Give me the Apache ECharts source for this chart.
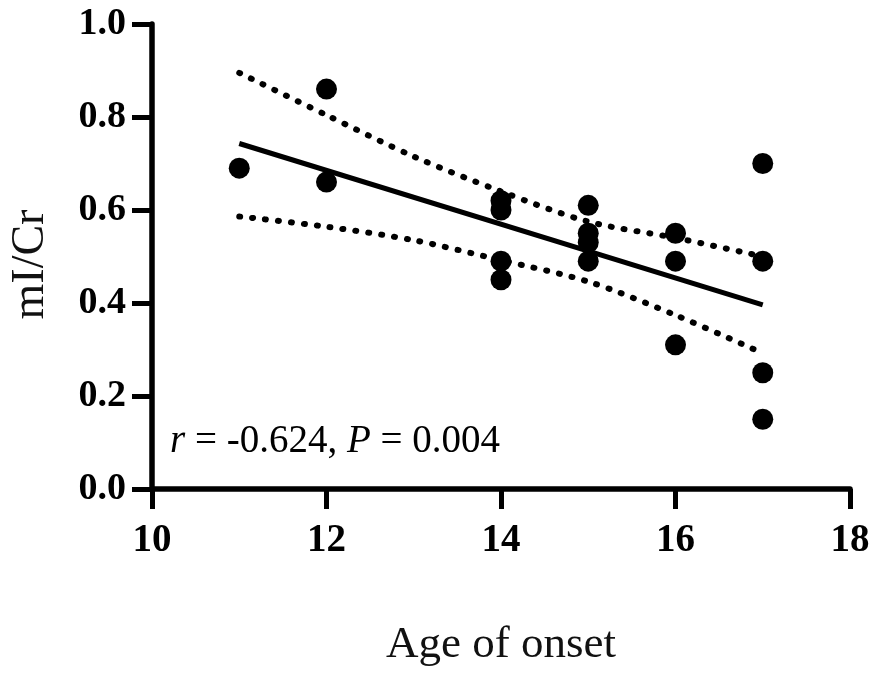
<!DOCTYPE html>
<html>
<head>
<meta charset="utf-8">
<script src="https://cdn.jsdelivr.net/npm/echarts@6/dist/echarts.min.js"></script>
<style>
  html, body { margin: 0; padding: 0; background: #fff; }
  #chart { width: 886px; height: 683px; }
</style>
</head>
<body>
<div id="chart"></div>
<script>
// measured points (age of onset vs mI/Cr)
const ages = [11, 12, 12, 14, 14, 14, 14, 15, 15, 15, 15, 16, 16, 16, 17, 17, 17, 17]
const ratios = [0.69, 0.86, 0.66, 0.62, 0.60, 0.49, 0.45, 0.61, 0.55, 0.53, 0.49, 0.55, 0.49, 0.31, 0.70, 0.49, 0.25, 0.15]

// fitted line end points
const fitX = [11, 17]
const fitY = [0.743, 0.396]

// 95% confidence band
const bandX = [11, 12, 13, 14, 15, 16, 17]
const bandUpper = [0.895, 0.804, 0.715, 0.64, 0.575, 0.54, 0.50]
const bandLower = [0.586, 0.564, 0.535, 0.492, 0.446, 0.374, 0.292]

const serif = "'Liberation Serif', 'DejaVu Serif', serif"
const pair = (xs, ys) => xs.map((x, i) => [x, ys[i]])

const dotted = {
    color: '#000',
    width: 6,
    type: [1, 12],
    cap: 'round'
}

const chart = echarts.init(document.getElementById('chart'))
chart.setOption({
    animation: false,
    grid: { left: 148, right: 36, top: 24, bottom: 194 },
    xAxis: {
        type: 'value',
        min: 10,
        max: 18,
        interval: 2,
        name: 'Age of onset',
        nameLocation: 'middle',
        nameGap: 134,
        nameTextStyle: { fontFamily: serif, fontSize: 45, color: '#111' },
        axisLine: { lineStyle: { color: '#000', width: 5.5 } },
        axisTick: { length: 20, lineStyle: { color: '#000', width: 5 } },
        axisLabel: { fontFamily: serif, fontSize: 39, fontWeight: 'bold', color: '#000', margin: 32 },
        splitLine: { show: false }
    },
    yAxis: {
        type: 'value',
        min: 0,
        max: 1.0,
        interval: 0.2,
        name: 'mI/Cr',
        nameLocation: 'middle',
        nameGap: 98,
        nameTextStyle: { fontFamily: serif, fontSize: 46, color: '#111', padding: [0, 16, 0, 0] },
        axisLine: { show: true, lineStyle: { color: '#000', width: 5.5 } },
        axisTick: { show: true, length: 20, lineStyle: { color: '#000', width: 5 } },
        axisLabel: {
            fontFamily: serif, fontSize: 38, fontWeight: 'bold', color: '#000', margin: 26,
            formatter: v => v.toFixed(1)
        },
        splitLine: { show: false }
    },
    graphic: [{
        type: 'text',
        left: 170,
        top: 422,
        style: {
            text: '{i|r} = -0.624, {i|P} = 0.004',
            fontFamily: serif,
            fontSize: 39,
            fill: '#000',
            rich: {
                i: { fontFamily: serif, fontSize: 39, fontStyle: 'italic', fill: '#000' }
            }
        }
    }],
    series: [
        {
            name: 'upper',
            type: 'line',
            data: pair(bandX, bandUpper),
            smooth: 0.3,
            showSymbol: false,
            lineStyle: dotted,
            z: 2
        },
        {
            name: 'lower',
            type: 'line',
            data: pair(bandX, bandLower),
            smooth: 0.3,
            showSymbol: false,
            lineStyle: dotted,
            z: 2
        },
        {
            name: 'fit',
            type: 'line',
            data: pair(fitX, fitY),
            showSymbol: false,
            lineStyle: { color: '#000', width: 5 },
            z: 3
        },
        {
            name: 'points',
            type: 'scatter',
            data: pair(ages, ratios),
            symbol: 'circle',
            symbolSize: 21,
            itemStyle: { color: '#000', opacity: 1 },
            z: 4
        }
    ]
})
</script>
</body>
</html>
